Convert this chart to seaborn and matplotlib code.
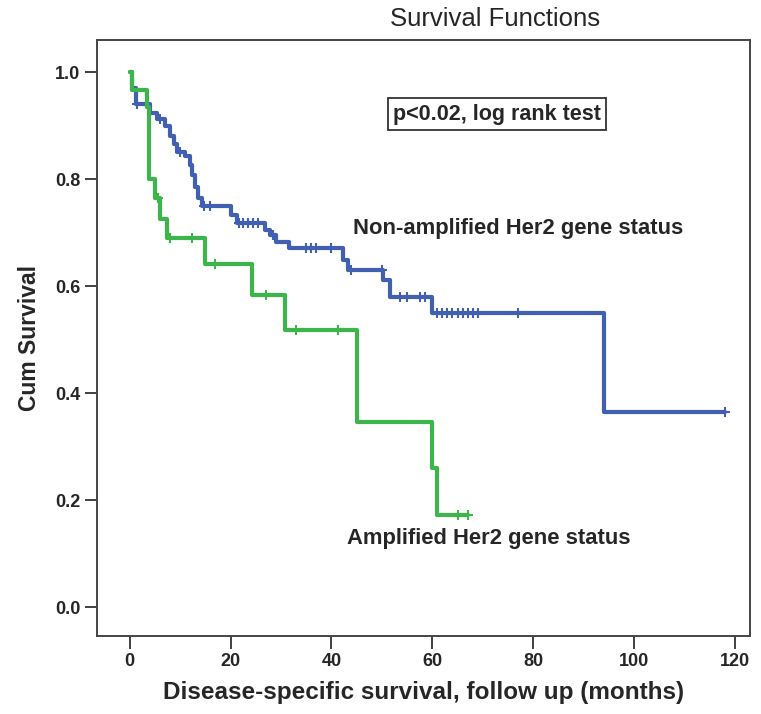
import numpy as np
import pandas as pd
import seaborn as sns
import matplotlib.pyplot as plt

# Kaplan-Meier steps (months, cum survival after the drop)
blue_times = [0.5, 1.2, 4.0, 5.3, 7.0, 8.0, 8.7, 9.4, 11.0, 12.0, 12.4, 13.0, 13.6, 14.3,
              20.0, 21.2, 26.8, 27.8, 29.0, 31.5, 42.3, 43.2, 50.2, 51.6, 60.0, 94.0]
blue_surv = [0.97, 0.94, 0.923, 0.912, 0.90, 0.88, 0.866, 0.85, 0.843, 0.826, 0.807, 0.785, 0.765, 0.75,
             0.733, 0.718, 0.705, 0.695, 0.682, 0.671, 0.649, 0.630, 0.611, 0.579, 0.55, 0.365]
blue_end = 118
blue_cens = [1.5, 6, 10, 14.8, 16, 21.7, 22.5, 23.5, 24.5, 25.5, 28.5, 35, 36, 37, 40, 43.8, 50,
             53.6, 55, 57.5, 58.5, 61, 62, 63, 64, 65, 66, 67, 68, 69, 77, 118]

green_times = [0.4, 3.5, 3.9, 5.0, 6.0, 7.4, 15.0, 24.2, 30.8, 45.0, 60.0, 61.0]
green_surv = [0.966, 0.935, 0.80, 0.765, 0.725, 0.69, 0.641, 0.583, 0.518, 0.346, 0.26, 0.172]
green_end = 67
green_cens = [5.5, 8, 12.3, 17, 27, 33, 41.2, 65, 67]

x_ticks = [0, 20, 40, 60, 80, 100, 120]
y_ticks = [0.0, 0.2, 0.4, 0.6, 0.8, 1.0]

blue_col = '#4160b2'
green_col = '#3cb54a'


def km_frame(times, surv, end):
    t = [0.0] + list(times) + [end]
    s = [1.0] + list(surv) + [surv[-1]]
    return pd.DataFrame({'t': t, 's': s})


def cens_frame(df, cens):
    idx = np.searchsorted(df.t.values[:-1], cens, side='right') - 1
    return pd.DataFrame({'t': cens, 's': df.s.values[idx]})


sns.set_style("ticks")
plt.rcParams['font.family'] = ['Liberation Sans', 'DejaVu Sans']

fig = plt.figure(figsize=(7.61, 7.14), dpi=100)
ax = fig.add_axes([97 / 761, 78 / 714, 653 / 761, 596 / 714])

blue = km_frame(blue_times, blue_surv, blue_end)
green = km_frame(green_times, green_surv, green_end)

sns.lineplot(data=blue, x='t', y='s', ax=ax, color=blue_col, lw=3, drawstyle='steps-post',
             estimator=None, sort=False)
sns.lineplot(data=green, x='t', y='s', ax=ax, color=green_col, lw=3, drawstyle='steps-post',
             estimator=None, sort=False)
bc = cens_frame(blue, blue_cens)
gc = cens_frame(green, green_cens)
sns.scatterplot(data=bc, x='t', y='s', ax=ax, marker='+', s=60, color=blue_col, linewidth=1.5, zorder=3)
sns.scatterplot(data=gc, x='t', y='s', ax=ax, marker='+', s=60, color=green_col, linewidth=1.5, zorder=3)

ax.set_xlim(-6.5, 123)
ax.set_ylim(-0.054, 1.06)
ax.set_xticks(x_ticks)
ax.set_yticks(y_ticks)
ax.set_yticklabels([f'{v:.1f}' for v in y_ticks])
ax.tick_params(axis='both', length=9, width=1.3, color='#333333', labelsize=13, pad=3)
for lab in ax.get_xticklabels() + ax.get_yticklabels():
    lab.set_fontweight('bold')
for sp in ax.spines.values():
    sp.set_visible(True)
    sp.set_color('#444444')
    sp.set_linewidth(1.4)

ax.set_xlabel('Disease-specific survival, follow up (months)', fontsize=17.5, fontweight='bold', labelpad=8)
ax.set_ylabel('Cum Survival', fontsize=16.5, fontweight='bold', labelpad=10)
fig.text(495 / 761, 1 - 19 / 714, 'Survival Functions', fontsize=18.5, ha='center', va='center')

ax.text(44.2, 0.708, 'Non-amplified Her2 gene status', fontsize=15.8, fontweight='bold', va='center')
ax.text(43.0, 0.129, 'Amplified Her2 gene status', fontsize=15.8, fontweight='bold', va='center')
ax.text(72.8, 0.921, 'p<0.02, log rank test', fontsize=15.5, fontweight='bold', ha='center', va='center',
        bbox=dict(boxstyle='square,pad=0.25', fc='white', ec='#333333', lw=1.3))

fig.savefig('out.png', dpi=100)
